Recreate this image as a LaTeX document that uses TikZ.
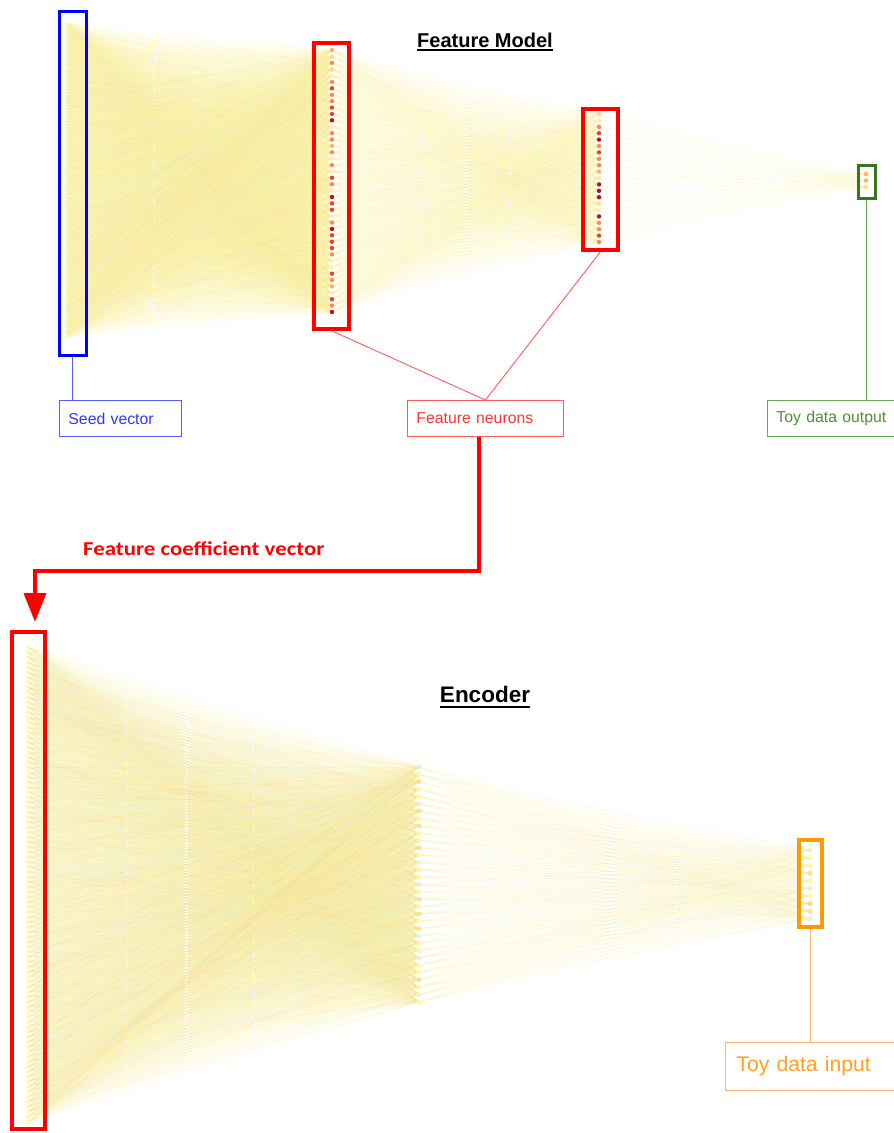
\documentclass[tikz,border=0pt]{standalone}
\usepackage{fontspec}
\setmainfont{Liberation Sans}
\newfontfamily\califont[FakeStretch=1.16]{Carlito}
\usetikzlibrary{arrows.meta}
\pgfdeclarelayer{bg}
\pgfsetlayers{bg,main}
% dot colours
\definecolor{d0}{HTML}{FFF0B0}
\definecolor{d1}{HTML}{FEDB8B}
\definecolor{d2}{HTML}{FDB462}
\definecolor{d3}{HTML}{FB8A4E}
\definecolor{d4}{HTML}{E4432F}
\definecolor{d5}{HTML}{B2102B}
\definecolor{py}{HTML}{FFF9A8}
\definecolor{pg}{HTML}{E5F3DC}
\definecolor{po}{HTML}{FEE08E}
% line colours
\definecolor{ly}{HTML}{FFF59A}
\definecolor{ly2}{HTML}{FDEB85}
\definecolor{lg}{HTML}{DCEFD0}
\definecolor{lo}{HTML}{FDD9A0}
\definecolor{lo2}{HTML}{FDC878}
\definecolor{lw}{HTML}{FFFBC8}
% box colours
\definecolor{bblue}{HTML}{0000FF}
\definecolor{bred}{HTML}{FF0000}
\definecolor{bgreen}{HTML}{38761D}
\definecolor{borange}{HTML}{FF9900}
\definecolor{tblue}{HTML}{3333FF}
\definecolor{sblue}{HTML}{5A5AFF}
\definecolor{tred}{HTML}{FF3333}
\definecolor{sred}{HTML}{FF5A5A}
\definecolor{tgreen}{HTML}{4E8F35}
\definecolor{sgreen}{HTML}{6AA84F}
\definecolor{torange}{HTML}{FFA01E}
\definecolor{sorange}{HTML}{F8B86E}
\tikzset{
  dot/.style={circle, inner sep=0pt, minimum size=#1, draw=none},
  net/.style={line width=0.45pt, draw opacity=0.22},
  ta1/.style={net, draw=ly}, ta2/.style={net, draw=ly}, ta3/.style={net, draw=ly},
  ta4/.style={net, draw=ly}, ta5/.style={net, draw=ly}, ta6/.style={net, draw=lw},
  ta7/.style={net, draw=lw}, ta8/.style={net, draw=lg}, ta9/.style={net, draw=lo},
  ta10/.style={net, draw=ly2},
  tb1/.style={net, draw=ly}, tb2/.style={net, draw=ly}, tb3/.style={net, draw=ly},
  tb4/.style={net, draw=lw}, tb5/.style={net, draw=ly2}, tb6/.style={net, draw=lg},
  tb7/.style={net, draw=lo}, tb8/.style={net, draw=lo2}, tb9/.style={net, draw=lg},
  tb10/.style={net, draw=ly},
  layerbox/.style={rectangle, inner sep=0pt, fill=none},
  lbl/.style={rectangle, anchor=north west, inner ysep=0pt, align=left,
    line width=0.9pt, font=\fontsize{15.8}{19}\selectfont, minimum height=36pt},
  thin/.style={line width=0.9pt},
  bigarrow/.style={draw=bred, line width=4pt, line join=miter,
    -{Triangle[width=22pt 0, length=29pt 0]}},
}
\begin{document}
\begin{tikzpicture}[x=1pt,y=-1pt]
\useasboundingbox (0,0) rectangle (894,1133);
\pgfmathsetseed{11}
% ---------------- Feature model layers ----------------
\foreach \i in {1,...,100} \node[dot=3.2pt, fill=py] (s\i) at (66,{23+(\i-1)/99*314}) {};
\foreach \c [count=\i] in {2,1,3,1,0,3,4,3,3,4,4,5,0,3,3,2,3,0,3,0,4,3,0,5,4,4,0,3,5,4,4,4,3,0,0,4,3,2,0,4,3,5}
  \node[dot=4.4pt, fill=d\c] (f\i) at (332,{50+(\i-1)/41*262}) {};
\foreach \c [count=\i] in {1,0,3,4,5,3,4,3,3,2,0,5,5,5,1,0,5,3,3,4,3}
  \node[dot=4.4pt, fill=d\c] (g\i) at (599,{114+(\i-1)*6.4}) {};
\foreach \c [count=\i] in {2,2,1}
  \node[dot=4.6pt, fill=d\c] (o\i) at (866,{174+(\i-1)*6.5}) {};
% ---------------- Encoder layers ----------------
\foreach \i in {1,...,96} \node[dot=4pt, fill=py] (e\i) at (28,{647+(\i-1)*5}) {};
\foreach \c [count=\i] in {pg,py,po,py,py,pg,po,py,po,py,py,po,py,pg,py,py,pg,py,po,py,po,py,po,pg,py,py,pg,py,py,po,py,pg,py}
  \node[dot=5pt, fill=\c] (m\i) at (419,{767+(\i-1)/32*235}) {};
\foreach \c [count=\i] in {pg,py,py,po,py,pg,py,d1,po,pg}
  \node[dot=5.4pt, fill=\c] (n\i) at (810,{850+(\i-1)/9*69}) {};
% ---------------- connections ----------------
\begin{pgfonlayer}{bg}
\foreach \i in {1,...,100}{\foreach \j in {1,...,42}{\pgfmathrandominteger{\r}{1}{10}\draw[ta\r] (s\i.center) -- (f\j.center);}}
\foreach \i in {1,...,42}{\foreach \j in {1,...,21}{\pgfmathrandominteger{\r}{1}{10}\draw[ta\r] (f\i.center) -- (g\j.center);}}
\foreach \i in {1,...,21}{\foreach \j in {1,...,3}{\pgfmathrandominteger{\r}{1}{10}\draw[ta\r] (g\i.center) -- (o\j.center);}}
\foreach \i in {1,...,96}{\foreach \j in {1,...,33}{\pgfmathrandominteger{\r}{1}{10}\draw[tb\r] (e\i.center) -- (m\j.center);}}
\foreach \i in {1,...,33}{\foreach \j in {1,...,10}{\pgfmathrandominteger{\r}{1}{10}\draw[tb\r] (m\i.center) -- (n\j.center);}}
\end{pgfonlayer}
% ---------------- layer boxes ----------------
\node[layerbox, draw=bblue, line width=3pt, minimum width=27pt, minimum height=344pt] (seedbox) at (72.5,183) {};
\node[layerbox, draw=bred, line width=3.5pt, minimum width=35pt, minimum height=286pt] (fnbox1) at (331.5,186) {};
\node[layerbox, draw=bred, line width=3.5pt, minimum width=35pt, minimum height=141pt] (fnbox2) at (600.5,179.5) {};
\node[layerbox, draw=bgreen, line width=3pt, minimum width=17pt, minimum height=33pt] (outbox) at (866.5,181.5) {};
\node[layerbox, draw=bred, line width=3.5pt, minimum width=33pt, minimum height=497pt] (encbox) at (28.5,880.5) {};
\node[layerbox, draw=borange, line width=3.5pt, minimum width=23pt, minimum height=87pt] (encoutbox) at (810.5,883.5) {};
% ---------------- titles ----------------
\node[anchor=base, inner sep=0pt, font=\bfseries\fontsize{20}{24}\selectfont] (fmtitle) at (485,47) {Feature Model};
\draw[line width=1.8pt] ([yshift=-2.6pt]fmtitle.base west) -- ([yshift=-2.6pt]fmtitle.base east);
\node[anchor=base, inner sep=0pt, font=\bfseries\fontsize{22.5}{27}\selectfont] (enctitle) at (485,702) {Encoder};
\draw[line width=2.2pt] ([yshift=-4.6pt]enctitle.base west) -- ([yshift=-4.6pt]enctitle.base east);
% ---------------- labels ----------------
\node[lbl, draw=sblue, text=tblue, inner xsep=9pt, text width=104pt] (seedlbl) at (59,400) {Seed vector};
\node[lbl, draw=sred, text=tred, inner xsep=9pt, text width=138pt] (fnlbl) at (407,400) {Feature neurons};
\node[lbl, draw=sgreen, text=tgreen, inner xsep=9pt, text width=122pt] (outlbl) at (767,400) {Toy data output};
\node[lbl, draw=sorange, text=torange, inner xsep=11pt, text width=158pt, minimum height=48pt,
  font=\fontsize{21.2}{25}\selectfont] (inlbl) at (725,1042) {Toy data input};
\node[anchor=base west, inner sep=0pt, text=bred, font=\califont\bfseries\fontsize{19.7}{24}\selectfont] (fcv) at (83,555) {Feature coefficient vector};
% ---------------- connectors ----------------
\draw[thin, draw=sblue] (seedbox.south) -- (seedbox.south |- seedlbl.north);
\draw[thin, draw=sred] (fnbox1.south) -- (fnlbl.north);
\draw[thin, draw=sred] (fnbox2.south) -- (fnlbl.north);
\draw[thin, draw=sgreen] (outbox.south) -- (outbox.south |- outlbl.north);
\draw[thin, draw=sorange] (encoutbox.south) -- (encoutbox.south |- inlbl.north);
\coordinate (bend) at (35,571);
\coordinate (arrowtip) at (35,622);
\draw[bigarrow] ([xshift=-6pt]fnlbl.south) |- (bend) -- (arrowtip);
\end{tikzpicture}
\end{document}
